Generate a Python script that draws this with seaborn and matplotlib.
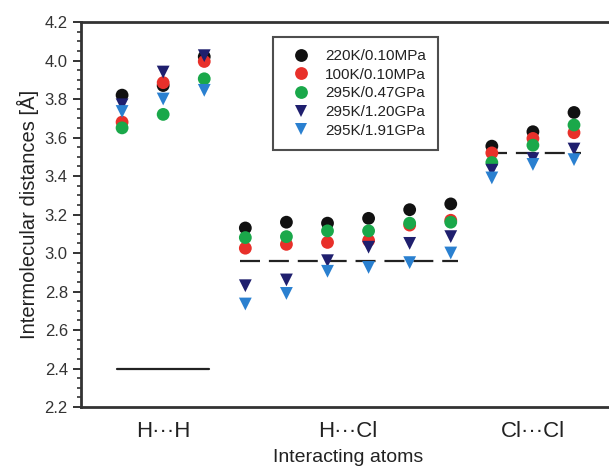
import numpy as np
import pandas as pd
import matplotlib
matplotlib.use("Agg")
import matplotlib.pyplot as plt
import seaborn as sns
from matplotlib.ticker import MultipleLocator

# ---- data ----
categories = ["H\u00b7\u00b7\u00b7H", "H\u00b7\u00b7\u00b7Cl", "Cl\u00b7\u00b7\u00b7Cl"]
group_sizes = [3, 6, 3]
conditions = ["220K/0.10MPa", "100K/0.10MPa", "295K/0.47GPa", "295K/1.20GPa", "295K/1.91GPa"]
d_220K_010MPa = [3.82, 3.87, 4.02, 3.13, 3.16, 3.155, 3.18, 3.225, 3.255, 3.555, 3.63, 3.73]
d_100K_010MPa = [3.68, 3.885, 3.995, 3.025, 3.045, 3.055, 3.065, 3.145, 3.17, 3.52, 3.595, 3.625]
d_295K_047GPa = [3.65, 3.72, 3.905, 3.08, 3.085, 3.115, 3.115, 3.155, 3.16, 3.47, 3.56, 3.665]
d_295K_120GPa = [3.77, 3.94, 4.025, 2.83, 2.86, 2.96, 3.03, 3.05, 3.085, 3.43, 3.49, 3.54]
d_295K_191GPa = [3.735, 3.80, 3.845, 2.735, 2.79, 2.905, 2.925, 2.95, 3.00, 3.39, 3.46, 3.485]
vdw_sums = [2.40, 2.96, 3.52]
vdw_styles = ["-", "--", "--"]

series = [d_220K_010MPa, d_100K_010MPa, d_295K_047GPa, d_295K_120GPa, d_295K_191GPa]
colors = ["#111111", "#e8302a", "#1aa84a", "#1f1f6e", "#2a80d0"]
marker_shapes = ["o", "o", "o", "v", "v"]

rows = []
for cond, vals in zip(conditions, series):
    for i, v in enumerate(vals):
        rows.append({"pos": i + 1, "dist": v, "condition": cond})
df = pd.DataFrame(rows)

sns.set_theme(style="white")
plt.rcParams["font.family"] = ["Liberation Sans", "DejaVu Sans"]

fig = plt.figure(figsize=(6.09, 4.72), dpi=100)
ax = fig.add_axes([81 / 609, 65 / 472, 1.01 - 81 / 609, 385 / 472])

sns.scatterplot(data=df, x="pos", y="dist", hue="condition", style="condition",
                hue_order=conditions, style_order=conditions,
                palette=dict(zip(conditions, colors)),
                markers=dict(zip(conditions, marker_shapes)),
                s=85, linewidth=0, ax=ax, zorder=3, legend=True)

# reference lines per group
start = 1
centers = []
for size, val, ls in zip(group_sizes, vdw_sums, vdw_styles):
    end = start + size - 1
    centers.append((start + end) / 2)
    if ls == "-":
        ax.plot([start - 0.12, end + 0.12], [val, val], color="#222222", lw=1.6, zorder=2)
    else:
        ax.plot([start - 0.12, end + 0.18], [val, val], color="#222222", lw=1.6,
                dashes=(9, 4), zorder=2)
    start = end + 1

ax.set_xlim(0, 13)
ax.set_ylim(2.2, 4.2)
ax.set_xticks(centers)
ax.set_xticklabels(categories, fontsize=16, color="#222222")
ax.yaxis.set_major_locator(MultipleLocator(0.2))
ax.yaxis.set_minor_locator(MultipleLocator(0.05))
ax.yaxis.set_major_formatter(matplotlib.ticker.FormatStrFormatter("%.1f"))
ax.tick_params(axis="y", which="major", direction="out", length=6, width=1.4,
               left=True, labelsize=12, labelcolor="#333333", color="#333333")
ax.tick_params(axis="y", which="minor", direction="out", length=3, width=1.2,
               left=True, color="#333333")
ax.tick_params(axis="x", length=0, pad=10)

for side in ["left", "bottom", "top"]:
    ax.spines[side].set_color("#333333")
    ax.spines[side].set_linewidth(2)
ax.spines["right"].set_visible(False)

ax.set_xlabel("Interacting atoms", fontsize=14, color="#222222", labelpad=5)
ax.set_ylabel("Intermolecular distances [\u00c5]", fontsize=14.5, color="#222222", labelpad=4)

handles, labels = ax.get_legend_handles_labels()
leg = ax.legend(handles, labels, loc="upper left",
                bbox_to_anchor=(273 / 609, 1 - 37 / 472), bbox_transform=fig.transFigure,
                frameon=True, fancybox=False, fontsize=11, labelspacing=0.3,
                handletextpad=0.6, borderpad=0.8, markerscale=1.0, borderaxespad=0)
leg.get_frame().set_edgecolor("#222222")
leg.get_frame().set_linewidth(1.5)
for t in leg.get_texts():
    t.set_color("#222222")

fig.savefig("out.png", dpi=100)
